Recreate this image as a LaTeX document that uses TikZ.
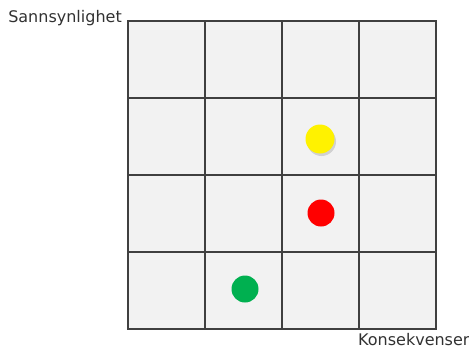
\documentclass[tikz,border=0pt]{standalone}
\usepackage{fontspec}
\setmainfont{DejaVu Sans}
\definecolor{lowrisk}{RGB}{0,176,80}
\definecolor{labelgray}{RGB}{50,50,50}

\begin{document}
\begin{tikzpicture}[x=1pt, y=-1pt, font=\fontsize{16}{19}\selectfont,
    cell/.style={draw=black!75, fill=black!5, line width=1.2pt},
    dot/.style={circle, inner sep=0pt, minimum size=27pt}]
  \useasboundingbox (0,0) rectangle (469,351);
  % 4x4 risk matrix
  \foreach \i in {0,...,3}
    \foreach \j in {0,...,3}
      \draw[cell] (128+77*\i,21+77*\j) rectangle ++(77,77);
  % axis labels
  \node[anchor=base, text=labelgray] (yaxis) at (65,22) {Sannsynlighet};
  \node[anchor=base west, text=labelgray, inner sep=0pt] (xaxis) at (358,345) {Konsekvenser};
  % risks: yellow has a soft shadow
  \fill[black!30, opacity=0.5] (321.5,141.5) circle (14.5);
  \node[dot, fill=yellow, minimum size=29pt] (risky) at (320,139) {};
  \node[dot, fill=red] (riskr) at (321,213) {};
  \node[dot, fill=lowrisk] (riskg) at (245,289) {};
\end{tikzpicture}
\end{document}
